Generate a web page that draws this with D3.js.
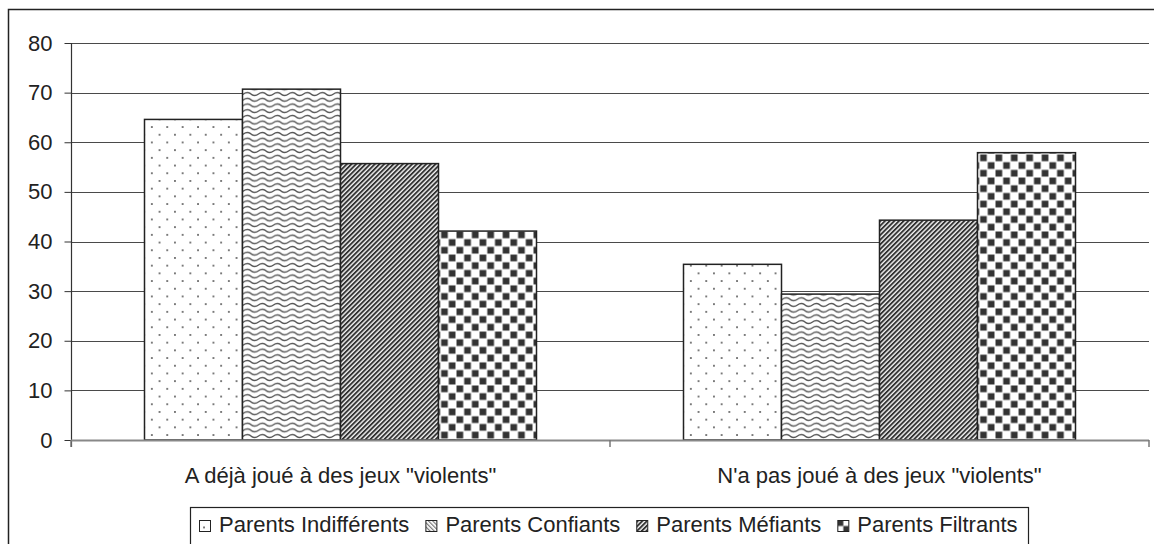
<!DOCTYPE html>
<html>
<head>
<meta charset="utf-8">
<script src="https://cdn.jsdelivr.net/npm/d3@7"></script>
<style>
  html, body { margin: 0; padding: 0; background: #fff; }
  svg { display: block; font-family: "Liberation Sans", Arial, sans-serif; }
</style>
</head>
<body>
<svg id="chart" width="1154" height="544"></svg>
<script>
const categories = ["A déjà joué à des jeux \"violents\"", "N'a pas joué à des jeux \"violents\""];
const seriesNames = ["Parents Indifférents", "Parents Confiants", "Parents Méfiants", "Parents Filtrants"];
const playedValues = [64.6, 70.7, 55.7, 42.1];
const notPlayedValues = [35.4, 29.4, 44.3, 57.9];
const yTickValues = [0, 10, 20, 30, 40, 50, 60, 70, 80];

const svg = d3.select("#chart");
const plot = { left: 71, right: 1149, top: 43, bottom: 440 };
const fontSize = "22px";

// outer frame (right and bottom edges fall outside the picture)
svg.append("rect")
    .attr("x", 8.5).attr("y", 9.5)
    .attr("width", 1200).attr("height", 600)
    .attr("fill", "none").attr("stroke", "#222").attr("stroke-width", 1.5);

// patterns
const defs = svg.append("defs");

const dots = defs.append("pattern").attr("id", "p0")
    .attr("patternUnits", "userSpaceOnUse").attr("width", 15.4).attr("height", 15.4);
dots.append("rect").attr("width", 15.4).attr("height", 15.4).attr("fill", "#fff");
dots.append("rect").attr("x", 3).attr("y", 3).attr("width", 1.7).attr("height", 1.7).attr("fill", "#555");
dots.append("rect").attr("x", 10.7).attr("y", 10.7).attr("width", 1.7).attr("height", 1.7).attr("fill", "#555");

const waves = defs.append("pattern").attr("id", "p1")
    .attr("patternUnits", "userSpaceOnUse").attr("width", 15).attr("height", 5.7);
waves.append("rect").attr("width", 15).attr("height", 5.7).attr("fill", "#fff");
waves.append("path")
    .attr("d", "M-7.5,2.85 Q-3.75,-0.15 0,2.85 T7.5,2.85 T15,2.85 T22.5,2.85")
    .attr("fill", "none").attr("stroke", "#555").attr("stroke-width", 1.4);

const stripes = defs.append("pattern").attr("id", "p2")
    .attr("patternUnits", "userSpaceOnUse").attr("width", 3.3).attr("height", 3.3)
    .attr("patternTransform", "rotate(45)");
stripes.append("rect").attr("width", 3.3).attr("height", 3.3).attr("fill", "#f4f4f4");
stripes.append("rect").attr("width", 1.9).attr("height", 3.3).attr("fill", "#333");

const checker = defs.append("pattern").attr("id", "p3")
    .attr("patternUnits", "userSpaceOnUse").attr("width", 15.4).attr("height", 15.4);
checker.append("rect").attr("width", 15.4).attr("height", 15.4).attr("fill", "#fff");
checker.append("rect").attr("x", 0.5).attr("y", 0.5).attr("width", 6.7).attr("height", 6.7).attr("fill", "#333");
checker.append("rect").attr("x", 8.2).attr("y", 8.2).attr("width", 6.7).attr("height", 6.7).attr("fill", "#333");

// small versions for the legend keys
const legendStripes = defs.append("pattern").attr("id", "k1")
    .attr("patternUnits", "userSpaceOnUse").attr("width", 3).attr("height", 3)
    .attr("patternTransform", "rotate(-45)");
legendStripes.append("rect").attr("width", 3).attr("height", 3).attr("fill", "#fff");
legendStripes.append("rect").attr("width", 1.2).attr("height", 3).attr("fill", "#777");

const legendChecker = defs.append("pattern").attr("id", "k3")
    .attr("patternUnits", "objectBoundingBox").attr("width", 1).attr("height", 1)
    .attr("patternContentUnits", "objectBoundingBox");
legendChecker.append("rect").attr("width", 1).attr("height", 1).attr("fill", "#fff");
legendChecker.append("rect").attr("width", 0.5).attr("height", 0.5).attr("fill", "#333");
legendChecker.append("rect").attr("x", 0.5).attr("y", 0.5).attr("width", 0.5).attr("height", 0.5).attr("fill", "#333");

const legendFills = ["url(#p0)", "url(#k1)", "url(#p2)", "url(#k3)"];

// scales
const y = d3.scaleLinear().domain([0, 80]).range([plot.bottom, plot.top]);
const x0 = d3.scaleBand().domain(categories).range([plot.left, plot.right]).padding(0);
const x1 = d3.scaleBand().domain(seriesNames).range([0, x0.bandwidth()])
    .paddingInner(0).paddingOuter(0.75);

const data = categories.map((c, i) => ({
    category: c,
    values: seriesNames.map((s, j) => ({ series: s, idx: j, value: (i === 0 ? playedValues : notPlayedValues)[j] }))
}));

// gridlines
svg.append("g").selectAll("line")
    .data(yTickValues.filter(d => d > 0))
    .join("line")
    .attr("x1", plot.left).attr("x2", plot.right)
    .attr("y1", d => Math.round(y(d)) + 0.5).attr("y2", d => Math.round(y(d)) + 0.5)
    .attr("stroke", "#4a4a4a").attr("stroke-width", 1.2);

// y axis
const yAxis = svg.append("g")
    .attr("transform", `translate(${plot.left + 0.5},0)`)
    .call(d3.axisLeft(y).tickValues(yTickValues).tickSize(7).tickPadding(12));
yAxis.select(".domain").remove();
yAxis.selectAll(".tick line").attr("stroke", "#333");
yAxis.selectAll(".tick text").attr("fill", "#222").style("font-size", fontSize)
    .style("font-family", "'Liberation Sans', Arial, sans-serif");
svg.append("line")
    .attr("x1", plot.left + 0.5).attr("x2", plot.left + 0.5)
    .attr("y1", plot.top).attr("y2", plot.bottom + 7)
    .attr("stroke", "#333").attr("stroke-width", 1.2);

// bars
const groups = svg.append("g").selectAll("g")
    .data(data)
    .join("g")
    .attr("transform", d => `translate(${x0(d.category)},0)`);

groups.selectAll("rect")
    .data(d => d.values)
    .join("rect")
    .attr("x", d => x1(d.series))
    .attr("y", d => y(d.value))
    .attr("width", x1.bandwidth())
    .attr("height", d => y(0) - y(d.value))
    .attr("fill", d => `url(#p${d.idx})`)
    .attr("stroke", "#222").attr("stroke-width", 1.5);

// x axis
svg.append("line")
    .attr("x1", plot.left).attr("x2", plot.right)
    .attr("y1", plot.bottom + 0.5).attr("y2", plot.bottom + 0.5)
    .attr("stroke", "#888").attr("stroke-width", 2);
svg.append("g").selectAll("line")
    .data([plot.left, x0(categories[1]), plot.right])
    .join("line")
    .attr("x1", d => d).attr("x2", d => d)
    .attr("y1", plot.bottom).attr("y2", plot.bottom + 7)
    .attr("stroke", "#777").attr("stroke-width", 1.5);

svg.append("g").selectAll("text")
    .data(categories)
    .join("text")
    .attr("x", d => x0(d) + x0.bandwidth() / 2)
    .attr("y", 483)
    .attr("text-anchor", "middle")
    .attr("fill", "#222")
    .style("font-size", fontSize)
    .text(d => d);

// legend
const legend = svg.append("g");
legend.append("rect")
    .attr("x", 190.5).attr("y", 507.5)
    .attr("width", 838).attr("height", 60)
    .attr("fill", "#fff").attr("stroke", "#222").attr("stroke-width", 1.2);

let lx = 199;
seriesNames.forEach((s, i) => {
    legend.append("rect")
        .attr("x", lx + 0.5).attr("y", 520.5)
        .attr("width", 11).attr("height", 11)
        .attr("fill", legendFills[i])
        .attr("stroke", "#222").attr("stroke-width", 1);
    const t = legend.append("text")
        .attr("x", lx + 20).attr("y", 532)
        .attr("fill", "#222")
        .style("font-size", fontSize)
        .text(s);
    lx += 20 + t.node().getComputedTextLength() + 16;
});
</script>
</body>
</html>
